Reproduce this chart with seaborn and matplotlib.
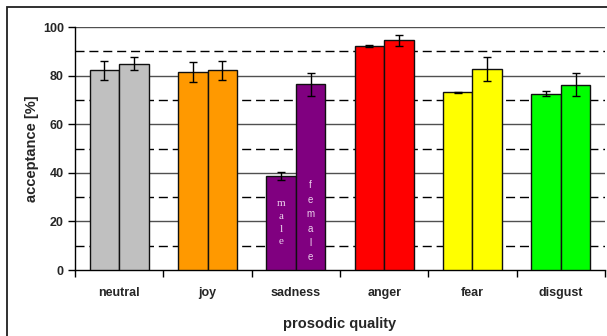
import matplotlib.pyplot as plt
import matplotlib.patches as mpatches
import pandas as pd
import seaborn as sns

# values
emotions = ['neutral', 'joy', 'sadness', 'anger', 'fear', 'disgust']
male = [82.2, 81.5, 38.7, 92.2, 73.1, 72.6]
female = [85.0, 82.2, 76.4, 94.5, 82.8, 76.3]
male_err = [3.8, 4.3, 1.6, 0.3, 0.3, 1.0]
female_err = [2.6, 4.0, 4.7, 2.2, 4.9, 4.7]
bar_colors = ['#C0C0C0', '#FF9900', '#800080', '#FF0000', '#FFFF00', '#00FF00']

df = pd.DataFrame({
    'emotion': emotions * 2,
    'value': male + female,
    'gender': ['male'] * 6 + ['female'] * 6,
})

sns.set_style('white')
plt.rcParams['font.family'] = ['Liberation Sans', 'DejaVu Sans']

fig = plt.figure(figsize=(6.07, 3.36), dpi=100)
ax = fig.add_axes([0.1236, 0.1964, 0.873, 0.723])

sns.barplot(data=df, x='emotion', y='value', hue='gender', order=emotions,
            hue_order=['male', 'female'], errorbar=None, width=0.67,
            legend=False, ax=ax, zorder=3)

bar_groups = list(ax.containers)  # grab before errorbars add more containers
errs = [male_err, female_err]
for k, cont in enumerate(bar_groups):
    for i, bar in enumerate(cont):
        bar.set_facecolor(bar_colors[i])
        bar.set_edgecolor('#101010')
        bar.set_linewidth(1.0)
        cx = bar.get_x() + bar.get_width() / 2
        ax.errorbar(cx, bar.get_height(), yerr=errs[k][i], color='black',
                    capsize=3, elinewidth=1, capthick=1, zorder=4)

# letters written inside the sadness bars
sad = emotions.index('sadness')
mb = bar_groups[0][sad]
fb = bar_groups[1][sad]
ax.text(mb.get_x() + mb.get_width() / 2, 19.5, '\n'.join('male'), ha='center',
        va='center', color='#EDD3ED', fontsize=8, family='Liberation Serif',
        linespacing=1.55, zorder=5)
ax.text(fb.get_x() + fb.get_width() / 2, 20, '\n'.join('female'), ha='center',
        va='center', color='#EDD3ED', fontsize=7, linespacing=1.55, zorder=5)

# grid: solid at 20s, dashed in between
for v in [20, 40, 60, 80, 100]:
    ax.axhline(v, color='#505050', lw=1, zorder=1)
for v in [10, 30, 50, 70, 90]:
    ax.axhline(v, color='black', lw=1, ls=(0, (6.5, 3.5)), zorder=1)

ax.set_ylim(0, 100)
ax.set_xlim(-0.5, len(emotions) - 0.5)
ax.set_yticks([0, 20, 40, 60, 80, 100])
ax.set_yticklabels([0, 20, 40, 60, 80, 100], fontsize=9, fontweight='bold')
ax.set_xticks([i - 0.5 for i in range(len(emotions) + 1)])
ax.set_xticklabels([])
ax.set_xticks(range(len(emotions)), minor=True)
ax.set_xticklabels(emotions, minor=True, fontsize=9, fontweight='bold')
ax.tick_params(axis='x', which='major', length=5, width=1, color='black',
               direction='out', bottom=True)
ax.tick_params(axis='x', which='minor', length=0, pad=12)
ax.tick_params(axis='y', length=5, width=1, color='black', direction='out',
               left=True, pad=3)

for s in ['top', 'right']:
    ax.spines[s].set_visible(False)
for s in ['left', 'bottom']:
    ax.spines[s].set_color('black')
    ax.spines[s].set_linewidth(1)

ax.set_xlabel('prosodic quality', fontsize=10.5, fontweight='bold', labelpad=13)
ax.set_ylabel('acceptance [%]', fontsize=10.5, fontweight='bold', labelpad=3)

# outer frame, cut off at the right and bottom like the original
fig.patches.append(mpatches.Rectangle((7 / 607, -0.1), 1.2, (336 - 7) / 336 + 0.1,
                                      transform=fig.transFigure, fill=False,
                                      edgecolor='#202020', lw=1.3))

fig.savefig('out.png', dpi=100)
